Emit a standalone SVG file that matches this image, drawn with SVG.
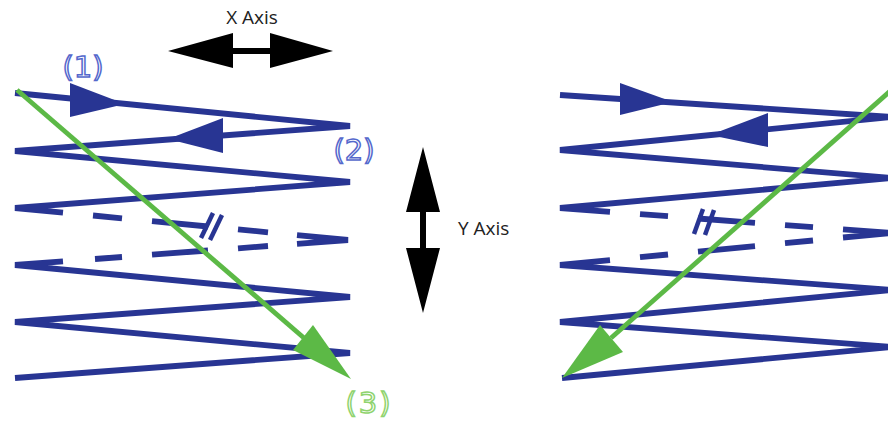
<svg xmlns="http://www.w3.org/2000/svg" width="888" height="422" viewBox="0 0 888 422">
<style>
.zz{fill:none;stroke:#283593;stroke-width:5.8;stroke-linejoin:bevel;stroke-linecap:butt}
.bm{fill:none;stroke:#283593;stroke-width:4.5}
.ah{fill:#283593}
.gl{fill:none;stroke:#5cb946;stroke-width:4.8}
.gh{fill:#5cb946}
.ax{fill:#000}
.axt{font-family:"Open Sans","Liberation Sans",sans-serif;font-size:19px;fill:#222}
.lb{font-family:"DejaVu Sans",sans-serif;font-size:29px;fill:#fff;stroke-width:1.5}
</style>
<rect width="888" height="422" fill="#fff"/>
<g id="left-zigzag">
<polyline class="zz" points="15,93 350,126 15,151 350,182 15,208 63,212.6"/>
<line class="zz" x1="93" y1="215.5" x2="122" y2="218.3"/>
<line class="zz" x1="152" y1="221.2" x2="208" y2="226.5"/>
<line class="zz" x1="238" y1="229.4" x2="268" y2="232.3"/>
<polyline class="zz" points="297,235.1 348,240 297,243.8"/>
<line class="zz" x1="268" y1="246" x2="238" y2="248.3"/>
<line class="zz" x1="208" y1="250.5" x2="152" y2="254.7"/>
<line class="zz" x1="122" y1="257" x2="95" y2="259"/>
<polyline class="zz" points="63,261.4 15,265 350,297 15,322 350,353 15,378"/>
<line class="bm" x1="213" y1="213" x2="201" y2="238"/>
<line class="bm" x1="222" y1="215" x2="210" y2="240"/>
<polygon class="ah" points="70,83 70,117 125,104"/>
<polygon class="ah" points="223,118 223,153 168,139"/>
</g>
<g id="right-zigzag">
<polyline class="zz" points="560,95 892,117 560,150 892,178 560,208 610,211.8"/>
<line class="zz" x1="640" y1="214.1" x2="668" y2="216.2"/>
<line class="zz" x1="698" y1="218.5" x2="755" y2="222.8"/>
<line class="zz" x1="785" y1="225.1" x2="813" y2="227.2"/>
<polyline class="zz" points="843,229.4 892,233 843,237.5"/>
<line class="zz" x1="813" y1="240.5" x2="785" y2="243.2"/>
<line class="zz" x1="755" y1="246.1" x2="698" y2="251.6"/>
<line class="zz" x1="668" y1="254.5" x2="640" y2="257.2"/>
<polyline class="zz" points="610,260.2 560,265 892,290 560,322 892,347 562,378"/>
<line class="bm" x1="703" y1="209" x2="694" y2="234"/>
<line class="bm" x1="714" y1="210" x2="705" y2="235"/>
<polygon class="ah" points="620,83 620,115 673,102"/>
<polygon class="ah" points="768,113 768,147 710,135"/>
</g>
<g id="connectors">
<line class="gl" x1="17" y1="90" x2="304" y2="338"/>
<polygon class="gh" points="313,325 293,350 351,379"/>
<line class="gl" x1="892" y1="89.5" x2="611" y2="338"/>
<polygon class="gh" points="600,325 623,352 562,378"/>
</g>
<g id="x-axis">
<polygon class="ax" points="168,51 233,33 233,48 270,48 270,33 333,51 270,68 270,54 233,54 233,68"/>
<text class="axt" x="252" y="24" text-anchor="middle">X Axis</text>
</g>
<g id="y-axis">
<polygon class="ax" points="423,147 440,212 426,212 426,248 440,248 423,313 406,248 420,248 420,212 406,212"/>
<text class="axt" x="458" y="235">Y Axis</text>
</g>
<g id="labels">
<text class="lb" x="83" y="77" text-anchor="middle" stroke="#5468cc">(1)</text>
<text class="lb" x="354" y="160" text-anchor="middle" stroke="#5468cc">(2)</text>
<text class="lb" x="369" y="413" text-anchor="middle" stroke="#8fd36e" letter-spacing="2">(3)</text>
</g>
</svg>
